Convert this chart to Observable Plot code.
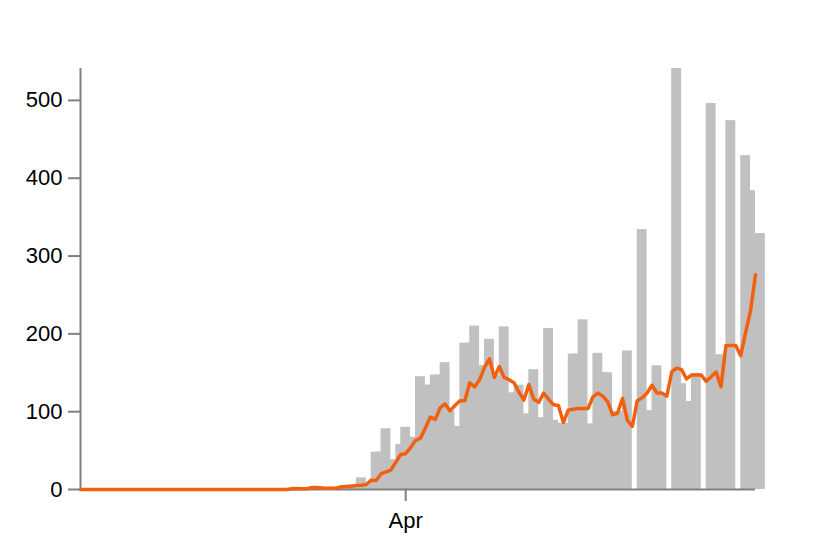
<!DOCTYPE html>
<html>
<head>
<meta charset="utf-8">
<script src="https://cdn.jsdelivr.net/npm/d3@7"></script>
<script src="https://cdn.jsdelivr.net/npm/@observablehq/plot@0.6"></script>
<style>
  html, body { margin: 0; padding: 0; background: #fff; }
  #chart [aria-label$="axis tick"],
  #chart [aria-label$="axis"] line,
  #chart [aria-label$="axis"] path { stroke: #808080; stroke-width: 2px; }
</style>
</head>
<body>
<div id="chart"></div>
<script>
// Daily counts (each bar spans two days), 26 Jan – 11 Jun
const startDay = "2020-01-26";
const endDay = "2020-06-12"; // exclusive
const daily = [
  0, 0, 0, 0, 0, 0, 0, 0, 0, 0,
  0, 0, 0, 0, 0, 0, 0, 0, 0, 0,
  0, 0, 0, 0, 0, 0, 0, 0, 0, 0,
  0, 0, 0, 0, 0, 0, 0, 0, 0, 0,
  0, 0,
  2, 3, 2, 1, 1, 2, 0, 0, 2, 1,
  1, 5, 6, 6, 15, 8, 8, 48, 48, 78,
  38, 38, 58, 80, 67, 67, 145, 134, 134, 147,
  147, 163, 101, 81, 81, 188, 188, 210, 159, 159,
  193, 146, 146, 209, 124, 124, 134, 97, 97, 154,
  92, 92, 207, 89, 85, 85, 85, 174, 174, 218,
  84, 84, 175, 150, 150, 100, 100, 100, 178, 0,
  0, 334, 101, 101, 159, 123, 0, 0, 541, 136,
  113, 113, 149, 0, 0, 496, 173, 173, 173, 474,
  0, 0, 429, 384, 329, 329
];
// Rolling average line
const average = [
  0, 0, 0, 0, 0, 0, 0, 0, 0, 0,
  0, 0, 0, 0, 0, 0, 0, 0, 0, 0,
  0, 0, 0, 0, 0, 0, 0, 0, 0, 0,
  0, 0, 0, 0, 0, 0, 0, 0, 0, 0,
  0, 0, 0,
  1, 1, 1, 1, 2.5, 2.5, 2, 1.5, 1.5, 2,
  3.5, 4, 4.3, 5, 5.5, 6.4, 12, 11.6, 20, 22.7,
  25, 35, 45, 46, 54, 63, 66, 79, 93, 90,
  105, 110, 101, 108, 114, 114, 137, 132, 141, 157,
  168, 144, 158, 144, 141, 137, 125, 115, 135, 116,
  112, 124, 116, 109, 108, 86, 102, 103, 104, 104,
  104, 119, 124, 120, 113, 96, 98, 117, 89, 81,
  114, 118, 124, 134, 124, 124, 120, 151, 156, 154,
  142, 147, 147, 147, 139, 145, 151, 132, 185, 185,
  185, 172, 202, 230, 276
];
const xTicks = ["2020-04-01"];
const yTicks = [0, 100, 200, 300, 400, 500];

const dates = d3.utcDay.range(new Date(startDay), new Date(endDay));
const table = dates.map((date, i) => ({
  date,
  end: d3.utcDay.offset(date, 2),
  value: daily[i],
  avg: average[i]
}));

const chart = Plot.plot({
  width: 814,
  height: 554,
  marginLeft: 80,
  marginRight: 59,
  marginTop: 68,
  marginBottom: 65,
  style: {
    fontSize: "22px",
    fontFamily: "'Liberation Sans', Arial, Helvetica, sans-serif",
    color: "black",
    background: "white"
  },
  x: {
    type: "utc",
    domain: [dates[0], dates[dates.length - 1]],
    ticks: xTicks.map(d => new Date(d)),
    tickFormat: d3.utcFormat("%b"),
    tickSize: 12,
    tickPadding: 11,
    label: null
  },
  y: {
    domain: [0, d3.max(daily)],
    ticks: yTicks,
    tickSize: 12,
    tickPadding: 6,
    label: null
  },
  marks: [
    Plot.rectY(table, {
      x1: "date",
      x2: "end",
      y1: () => 0,
      y2: "value",
      fill: "#c0c0c0",
      inset: 0
    }),
    Plot.ruleY([0], {stroke: "#808080", strokeWidth: 2}),
    Plot.ruleX([dates[0]], {stroke: "#808080", strokeWidth: 2}),
    Plot.line(table, {
      x: "date",
      y: "avg",
      stroke: "#f2600f",
      strokeWidth: 3.5
    })
  ]
});
document.getElementById("chart").appendChild(chart);
</script>
</body>
</html>
